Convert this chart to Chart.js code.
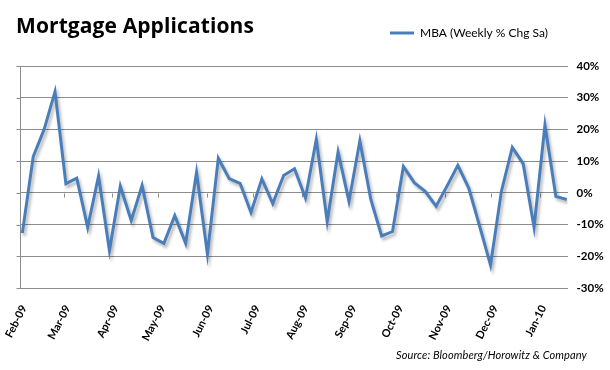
<!DOCTYPE html>
<html><head><meta charset="utf-8">
<script src="https://cdn.jsdelivr.net/npm/chart.js@4"></script>
<style>
html,body{margin:0;padding:0;background:#fff;}
#wrap{position:relative;width:610px;height:370px;}
#title{position:absolute;left:16px;top:13px;font:bold 21px "Open Sans", sans-serif;line-height:25px;color:#000;white-space:nowrap;letter-spacing:0.1px;}
#source{position:absolute;left:396px;top:349px;font:italic 11px Lato, sans-serif;line-height:12px;color:#000;white-space:nowrap;letter-spacing:0.1px;}
</style></head>
<body><div id="wrap"><canvas id="c" width="610" height="370"></canvas><div id="title">Mortgage Applications</div><div id="source">Source: Bloomberg/Horowitz &amp; Company</div></div>
<script>
// ---- data ----
const weekDates = ['2009-02-02','2009-02-09','2009-02-16','2009-02-23','2009-03-02','2009-03-09','2009-03-16','2009-03-23','2009-03-30',
 '2009-04-06','2009-04-13','2009-04-20','2009-04-27','2009-05-04','2009-05-11','2009-05-18','2009-05-25','2009-06-01','2009-06-08',
 '2009-06-15','2009-06-22','2009-06-29','2009-07-06','2009-07-13','2009-07-20','2009-07-27','2009-08-03','2009-08-10','2009-08-17',
 '2009-08-24','2009-08-31','2009-09-07','2009-09-14','2009-09-21','2009-09-28','2009-10-05','2009-10-12','2009-10-19','2009-10-26',
 '2009-11-02','2009-11-09','2009-11-16','2009-11-23','2009-11-30','2009-12-07','2009-12-14','2009-12-21','2009-12-28','2010-01-04',
 '2010-01-11','2010-01-18'];
const mbaWeeklyPctChg = [-12.7, 11.4, 20, 31.9, 2.9, 4.6, -10.9, 5.3, -18.2, 2.1, -8.7, 2.3, -14.1, -15.9, -7.2, -15.9, 6.5,
 -19.3, 10.9, 4.5, 3.0, -6.2, 4.4, -3.4, 5.5, 7.6, -1.6, 16.9, -9.0, 12.9, -2.7, 16.4, -2.0, -13.6, -12.2, 8.3, 3.2, 0.5,
 -4.2, 2.1, 8.7, 1.5, -10.5, -22.8, 0.5, 14.3, 9.2, -10.9, 21.4, -1.1, -2.1];
const monthTickDates = ['2009-02-01','2009-03-01','2009-04-01','2009-05-01','2009-06-01','2009-07-01','2009-08-01','2009-09-01',
 '2009-10-01','2009-11-01','2009-12-01','2010-01-01'];
const monthTickLabels = ['Feb-09','Mar-09','Apr-09','May-09','Jun-09','Jul-09','Aug-09','Sep-09','Oct-09','Nov-09','Dec-09','Jan-10'];
const axisStartDate = '2009-02-01';
const axisEndDate = '2010-01-19';
const seriesName = 'MBA (Weekly % Chg Sa)';

// ---- helpers ----
function dayNum(s){ const p = s.split('-').map(Number); return Date.UTC(p[0], p[1]-1, p[2]) / 86400000; }
const base = dayNum(axisStartDate);
const dayOffset = s => dayNum(s) - base;
const points = weekDates.map((d, i) => ({x: dayOffset(d) + 0.5, y: mbaWeeklyPctChg[i]}));
const monthTickValues = monthTickDates.map(dayOffset);

const BLUE = '#4a7ebb';
const GRID = '#8c8c8c';
const FONT = 'Lato, "Open Sans", sans-serif';

const shadowPlugin = {
  id: 'lineShadow',
  beforeDatasetDraw(chart){ const c = chart.ctx; c.save(); c.shadowColor = 'rgba(0,0,0,0.28)'; c.shadowBlur = 3; c.shadowOffsetX = 2; c.shadowOffsetY = 3; },
  afterDatasetDraw(chart){ chart.ctx.restore(); }
};
const axisPlugin = {
  id: 'axisMarks',
  beforeDatasetsDraw(chart){
    const {ctx, chartArea: a, scales: {x, y}} = chart;
    ctx.save();
    ctx.strokeStyle = GRID; ctx.lineWidth = 1;
    ctx.beginPath();
    const lx = Math.round(a.left) + 0.5;
    ctx.moveTo(lx, a.top); ctx.lineTo(lx, a.bottom);
    y.ticks.forEach(t => { const py = Math.round(y.getPixelForValue(t.value)) + 0.5; ctx.moveTo(lx - 4, py); ctx.lineTo(lx, py); });
    const y0 = Math.round(y.getPixelForValue(0)) + 0.5;
    monthTickValues.forEach(v => { const px = Math.round(x.getPixelForValue(v)) + 0.5; ctx.moveTo(px, y0); ctx.lineTo(px, y0 + 4); });
    ctx.stroke();
    ctx.restore();
  }
};
const legendPosPlugin = {
  id: 'legendPos',
  afterLayout(chart){
    const l = chart.legend; if (!l) return;
    const h = l.height;
    l.top = 17; l.bottom = 17 + h;
    l.left = 380; l.right = 610;
  }
};

new Chart(document.getElementById('c'), {
  type: 'line',
  data: { datasets: [{ label: seriesName, data: points, borderColor: BLUE, backgroundColor: BLUE, borderWidth: 3,
    pointRadius: 0, tension: 0, fill: false }] },
  options: {
    responsive: false, animation: false, events: [],
    layout: { padding: { left: 20, right: 0, top: 34, bottom: 0 } },
    plugins: {
      legend: { display: true, position: 'top', align: 'start',
        labels: { usePointStyle: true, pointStyle: 'line', pointStyleWidth: 24, boxWidth: 24, padding: 10,
          color: '#000', font: { family: FONT, size: 12 } } },
      tooltip: { enabled: false }, title: { display: false }
    },
    scales: {
      x: { type: 'linear', min: dayOffset(axisStartDate), max: dayOffset(axisEndDate),
        afterBuildTicks: s => { s.ticks = monthTickValues.map(v => ({value: v})); },
        afterFit: s => { s.height = 82; s.paddingLeft = 0; s.paddingRight = 0; },
        grid: { display: false, drawTicks: false }, border: { display: false },
        ticks: { autoSkip: false, minRotation: 63, maxRotation: 63, padding: 15, labelOffset: 4, color: '#000',
          font: { family: FONT, size: 11, weight: 'bold' },
          callback: (v) => monthTickLabels[monthTickValues.indexOf(v)] } },
      y: { position: 'right', min: -30, max: 40,
        afterFit: s => { s.width = 42.5; s.paddingTop = 0; s.paddingBottom = 0; },
        grid: { color: GRID, lineWidth: 1, drawTicks: false }, border: { display: false },
        ticks: { stepSize: 10, padding: 9, color: '#000', font: { family: FONT, size: 11.5, weight: 'bold' },
          callback: v => v + '%' } }
    }
  },
  plugins: [shadowPlugin, axisPlugin, legendPosPlugin]
});
</script>
</body></html>
